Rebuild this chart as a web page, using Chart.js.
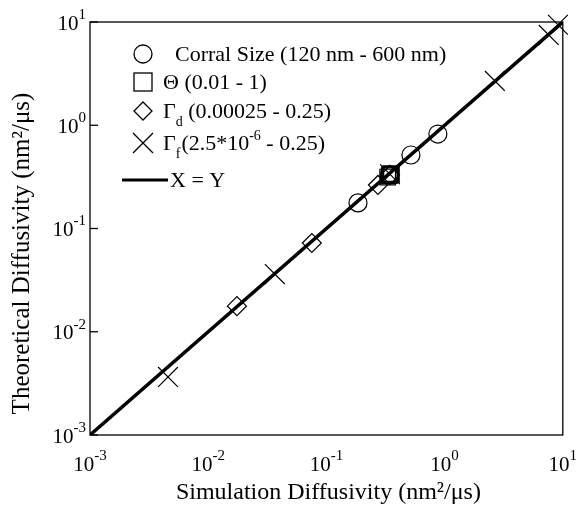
<!DOCTYPE html>
<html>
<head>
<meta charset="utf-8">
<script src="https://cdn.jsdelivr.net/npm/chart.js@4.4.0/dist/chart.umd.min.js"></script>
<style>
  html, body { margin: 0; padding: 0; background: #fff; }
  #wrap { width: 578px; height: 510px; }
</style>
</head>
<body>
<div id="wrap"><canvas id="diffChart" width="578" height="510"></canvas></div>
<script>
// Data (simulation vs theoretical diffusivity, nm^2/us)
const corralX = [0.185, 0.34, 0.519, 0.877];
const corralY = [0.177, 0.33, 0.515, 0.822];

const thetaX = [0.33, 0.34, 0.345, 0.35, 0.355];
const thetaY = [0.315, 0.325, 0.335, 0.34, 0.33];

const gammaDX = [0.0175, 0.0753, 0.273, 0.345];
const gammaDY = [0.0177, 0.0724, 0.264, 0.33];

const gammaFX = [0.00457, 0.0366, 0.345, 2.66, 7.6, 9.1];
const gammaFY = [0.00365, 0.0362, 0.335, 2.69, 7.5, 9.4];

const lineXY = [0.001, 10];
const decades = [-3, -2, -1, 0, 1];

const SERIF = "'Liberation Serif', 'Times New Roman', serif";

function pts(xs, ys) {
  return xs.map((x, i) => ({ x: x, y: ys[i] }));
}

// Draw "10" with a superscript exponent; align = 'center' or 'right'
function drawPow(ctx, exp, x, y, align) {
  ctx.font = "21px " + SERIF;
  const base = "10";
  const bw = ctx.measureText(base).width;
  ctx.font = "15px " + SERIF;
  const sup = String(exp);
  const sw = ctx.measureText(sup).width;
  let left = align === "right" ? x - bw - sw : x - (bw + sw) / 2;
  ctx.textBaseline = "middle";
  ctx.textAlign = "left";
  ctx.font = "21px " + SERIF;
  ctx.fillText(base, left, y);
  ctx.font = "15px " + SERIF;
  ctx.fillText(sup, left + bw, y - 9);
}

// Axes labels, box, ticks and the legend
const decorPlugin = {
  id: "decor",
  afterDraw(chart) {
    const ctx = chart.ctx;
    const a = chart.chartArea;
    const xs = chart.scales.x;
    const ys = chart.scales.y;
    ctx.save();
    ctx.fillStyle = "#000";
    ctx.strokeStyle = "#000";

    // box
    ctx.lineWidth = 1.3;
    ctx.strokeRect(a.left, a.top, a.right - a.left, a.bottom - a.top);

    // inward ticks on left axis
    decades.forEach(d => {
      const py = ys.getPixelForValue(Math.pow(10, d));
      ctx.beginPath();
      ctx.moveTo(a.left, py);
      ctx.lineTo(a.left + 8, py);
      ctx.stroke();
    });

    // tick labels
    decades.forEach(d => {
      drawPow(ctx, d, xs.getPixelForValue(Math.pow(10, d)), a.bottom + 30, "center");
      drawPow(ctx, d, a.left - 4, ys.getPixelForValue(Math.pow(10, d)) + 2, "right");
    });

    // axis titles
    ctx.textAlign = "center";
    ctx.textBaseline = "middle";
    ctx.font = "24px " + SERIF;
    ctx.fillText("Simulation Diffusivity (nm\u00B2/\u03BCs)", (a.left + a.right) / 2 + 2, 493);
    ctx.save();
    ctx.font = "25px " + SERIF;
    ctx.translate(22, (a.top + a.bottom) / 2 + 25);
    ctx.rotate(-Math.PI / 2);
    ctx.fillText("Theoretical Diffusivity (nm\u00B2/\u03BCs)", 0, 0);
    ctx.restore();

    // legend
    const symX = 143;
    const rows = [54, 82, 111, 143, 180];
    ctx.lineWidth = 1.3;
    // circle
    ctx.beginPath();
    ctx.arc(symX, rows[0], 9, 0, Math.PI * 2);
    ctx.stroke();
    // square
    ctx.strokeRect(symX - 9, rows[1] - 9, 18, 18);
    // diamond
    ctx.beginPath();
    ctx.moveTo(symX, rows[2] - 9);
    ctx.lineTo(symX + 9, rows[2]);
    ctx.lineTo(symX, rows[2] + 9);
    ctx.lineTo(symX - 9, rows[2]);
    ctx.closePath();
    ctx.stroke();
    // cross
    ctx.beginPath();
    ctx.moveTo(symX - 10, rows[3] - 10);
    ctx.lineTo(symX + 10, rows[3] + 10);
    ctx.moveTo(symX + 10, rows[3] - 10);
    ctx.lineTo(symX - 10, rows[3] + 10);
    ctx.stroke();
    // line
    ctx.lineWidth = 3;
    ctx.beginPath();
    ctx.moveTo(122, rows[4]);
    ctx.lineTo(168, rows[4]);
    ctx.stroke();

    ctx.textAlign = "left";
    ctx.textBaseline = "middle";
    const big = "22px " + SERIF, small = "14px " + SERIF;
    ctx.font = big;
    ctx.fillText("Corral Size (120 nm - 600 nm)", 175, rows[0] + 1);
    ctx.fillText("\u0398 (0.01 - 1)", 163, rows[1] + 1);
    // Gamma_d
    let x = 163;
    ctx.fillText("\u0393", x, rows[2] + 1);
    x += ctx.measureText("\u0393").width;
    ctx.font = small;
    ctx.fillText("d", x, rows[2] + 11);
    x += ctx.measureText("d").width;
    ctx.font = big;
    ctx.fillText(" (0.00025 - 0.25)", x, rows[2] + 1);
    // Gamma_f
    x = 163;
    ctx.fillText("\u0393", x, rows[3] + 1);
    x += ctx.measureText("\u0393").width;
    ctx.font = small;
    ctx.fillText("f", x, rows[3] + 11);
    x += ctx.measureText("f").width + 1;
    ctx.font = big;
    ctx.fillText("(2.5*10", x, rows[3] + 1);
    x += ctx.measureText("(2.5*10").width;
    ctx.font = small;
    ctx.fillText("-6", x, rows[3] - 7);
    x += ctx.measureText("-6").width;
    ctx.font = big;
    ctx.fillText(" - 0.25)", x, rows[3] + 1);
    ctx.fillText("X = Y", 170, rows[4] + 1);

    ctx.restore();
  }
};

const markerBase = {
  type: "scatter",
  borderColor: "#000",
  backgroundColor: "rgba(0,0,0,0)",
  borderWidth: 1.2,
  clip: false
};

new Chart(document.getElementById("diffChart").getContext("2d"), {
  data: {
    datasets: [
      {
        type: "line",
        label: "X = Y",
        data: pts(lineXY, lineXY),
        borderColor: "#000",
        borderWidth: 3.5,
        pointRadius: 0,
        fill: false,
        order: 5
      },
      Object.assign({}, markerBase, { label: "Corral Size", data: pts(corralX, corralY), pointStyle: "circle", pointRadius: 9 }),
      Object.assign({}, markerBase, { label: "Theta", data: pts(thetaX, thetaY), pointStyle: "rect", pointRadius: 11 }),
      Object.assign({}, markerBase, { label: "Gamma d", data: pts(gammaDX, gammaDY), pointStyle: "rectRot", pointRadius: 9.5 }),
      Object.assign({}, markerBase, { label: "Gamma f", data: pts(gammaFX, gammaFY), pointStyle: "crossRot", pointRadius: 14 })
    ]
  },
  options: {
    responsive: false,
    animation: false,
    layout: { padding: { left: 90, top: 22, right: 15, bottom: 75 } },
    plugins: {
      legend: { display: false },
      tooltip: { enabled: false }
    },
    scales: {
      x: {
        type: "logarithmic",
        min: 0.001,
        max: 10,
        grid: { display: false, drawTicks: false },
        border: { display: false },
        ticks: { display: false }
      },
      y: {
        type: "logarithmic",
        min: 0.001,
        max: 10,
        grid: { display: false, drawTicks: false },
        border: { display: false },
        ticks: { display: false }
      }
    }
  },
  plugins: [decorPlugin]
});
</script>
</body>
</html>
